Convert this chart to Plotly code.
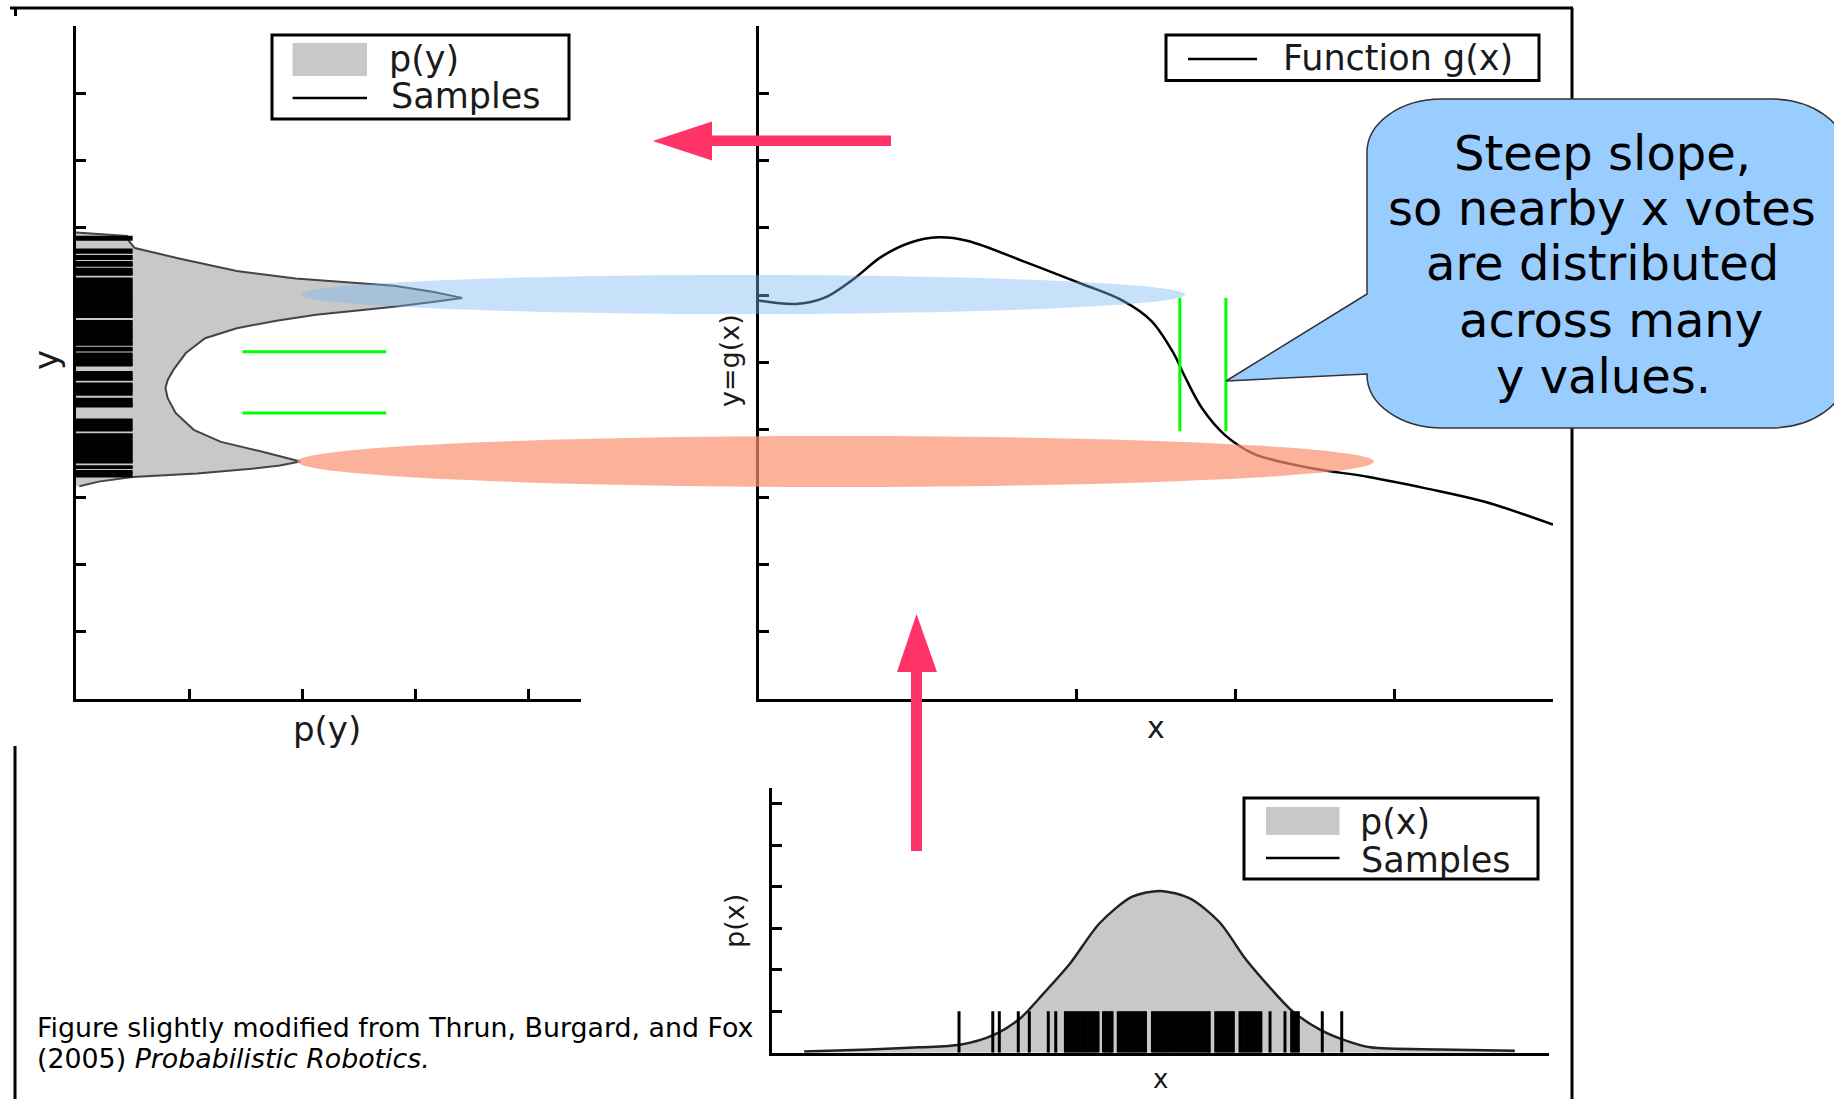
import plotly.graph_objects as go

W, H = 1834, 1099

# ---------------- data ----------------
# Left panel: density p(y), listed along y (top to bottom)
py_y = [6.93, 6.88, 6.80, 6.70, 6.55, 6.36, 6.25, 6.18, 6.14, 6.05, 5.96, 5.90, 5.83, 5.71, 5.62,
        5.51, 5.36, 5.14, 4.89, 4.74, 4.62, 4.47, 4.25, 4.00, 3.82, 3.68, 3.60, 3.53, 3.47, 3.42,
        3.35, 3.30, 3.23, 3.16]
py_density = [0.00, 0.45, 0.47, 0.52, 0.90, 1.42, 1.94, 2.47, 2.81, 3.15, 3.41, 3.15, 2.81, 2.12, 1.77,
              1.42, 1.14, 0.97, 0.86, 0.81, 0.79, 0.81, 0.88, 1.04, 1.28, 1.63, 1.82, 1.98, 1.80, 1.55,
              1.07, 0.50, 0.20, 0.03]

# Left panel: y samples (horizontal strokes)
y_samples = [6.86, 6.83, 6.67, 6.64, 6.575, 6.545, 6.485, 6.455, 6.445,
             6.385, 6.355, 6.325, 6.31,
             6.24, 6.21, 6.18, 6.15, 6.12, 6.09, 6.06, 6.03, 6.00, 5.97, 5.94, 5.91, 5.88, 5.85,
             5.82, 5.79, 5.76, 5.73, 5.70, 5.685,
             5.61, 5.58, 5.55, 5.52, 5.49, 5.46, 5.43, 5.40, 5.37, 5.34, 5.31, 5.28, 5.27,
             5.21, 5.185,
             5.125, 5.095, 5.065, 5.035, 5.005, 4.975, 4.962,
             4.85, 4.82, 4.79, 4.76, 4.75,
             4.68, 4.65, 4.62, 4.59, 4.56, 4.53,
             4.455, 4.425, 4.395, 4.365, 4.352,
             4.145, 4.115, 4.085, 4.055, 4.025, 3.997,
             3.925, 3.895, 3.865, 3.835, 3.805, 3.775, 3.745, 3.715, 3.685, 3.655, 3.625, 3.595,
             3.565, 3.535, 3.52,
             3.45, 3.44,
             3.38, 3.35, 3.315]
y_sample_length = 0.5

# Middle panel: function g(x)
g_x = [0.00, 0.23, 0.41, 0.59, 0.77, 0.95, 1.13, 1.31, 1.67, 2.03, 2.29, 2.47, 2.61, 2.68, 2.79,
       2.94, 3.12, 3.48, 3.84, 4.20, 4.57, 5.00]
g_y = [5.92, 5.87, 5.96, 6.23, 6.57, 6.78, 6.86, 6.81, 6.50, 6.17, 5.92, 5.62, 5.14, 4.80, 4.32,
       3.91, 3.64, 3.43, 3.30, 3.13, 2.93, 2.59]

# Bottom panel: density p(x)
px_x = [0.21, 0.63, 0.95, 1.21, 1.43, 1.60, 1.75, 1.92, 2.11, 2.32, 2.50, 2.69, 2.88, 3.05, 3.21,
        3.35, 3.53, 3.68, 3.85, 4.30, 4.78]
px_density = [0.03, 0.08, 0.13, 0.19, 0.43, 0.83, 1.43, 2.15, 3.12, 3.76, 3.90, 3.72, 3.15, 2.25, 1.55,
              1.00, 0.55, 0.31, 0.13, 0.08, 0.05]

# Bottom panel: x samples (vertical strokes)
x_samples = [1.206, 1.423, 1.465, 1.587, 1.658, 1.780, 1.828,
             1.89, 1.905, 1.92, 1.935, 1.95, 1.965, 1.98, 1.995, 2.01, 2.025, 2.04, 2.055, 2.07,
             2.085, 2.10,
             2.135, 2.15, 2.165, 2.18, 2.19,
             2.23, 2.245, 2.26, 2.275, 2.29, 2.305, 2.32, 2.335, 2.35, 2.365, 2.38, 2.395, 2.405,
             2.45, 2.465, 2.48, 2.495, 2.51, 2.525, 2.54, 2.555, 2.57, 2.585, 2.60, 2.615, 2.63,
             2.645, 2.66, 2.675, 2.69, 2.705, 2.72, 2.735, 2.75, 2.765, 2.78, 2.795, 2.81, 2.815,
             2.857, 2.872, 2.887, 2.902, 2.917, 2.932, 2.947, 2.962, 2.97,
             3.013, 3.028, 3.043, 3.058, 3.073, 3.088, 3.103, 3.118, 3.133, 3.147,
             3.206, 3.302, 3.345, 3.36, 3.375, 3.388, 3.542, 3.667]
x_sample_height = 1.0

# Green marker lines
green_left_y = [5.16, 4.25]
green_left_x = [1.47, 2.74]
green_mid_x = [2.65, 2.94]
green_mid_y = [3.98, 5.96]

# Tick positions (no tick labels shown)
left_xticks = [1, 2, 3, 4]
left_yticks = [1, 2, 3, 4, 5, 6, 7, 8, 9, 10]
mid_xticks = [1, 2, 3, 4, 5]
mid_yticks = [1, 2, 3, 4, 5, 6, 7, 8, 9, 10]
bot_xticks = [5]
bot_yticks = [1, 2, 3, 4, 5, 6]

callout_lines = ["Steep slope,", "so nearby x votes", "are distributed", "across many", "y values."]

# ---------------- helpers ----------------
def fx(p):
    return p / W


def fy(p):
    return 1 - p / H


def pt(x, y):
    return f"{fx(x):.5f},{fy(y):.5f}"


GRAY = "#c8c8c8"
PINK = "#ff3366"
GREEN = "#00ff00"
FONT = "DejaVu Sans"
TXT = "#1a1a1a"

fig = go.Figure()

# Left panel
fig.add_trace(go.Scatter(x=py_density, y=py_y, mode="lines", fill="tozerox", fillcolor=GRAY,
                         line=dict(color="#444444", width=2), xaxis="x", yaxis="y"))
sx, sy = [], []
for v in y_samples:
    sx += [0, y_sample_length, None]
    sy += [v, v, None]
fig.add_trace(go.Scatter(x=sx, y=sy, mode="lines", line=dict(color="black", width=3),
                         xaxis="x", yaxis="y"))
gx1, gy1 = [], []
for v in green_left_y:
    gx1 += [green_left_x[0], green_left_x[1], None]
    gy1 += [v, v, None]
fig.add_trace(go.Scatter(x=gx1, y=gy1, mode="lines", line=dict(color=GREEN, width=3),
                         xaxis="x", yaxis="y"))

# Middle panel
fig.add_trace(go.Scatter(x=g_x, y=g_y, mode="lines", line=dict(color="black", width=2.5, shape="spline"),
                         xaxis="x2", yaxis="y2"))
gx2, gy2 = [], []
for v in green_mid_x:
    gx2 += [v, v, None]
    gy2 += [green_mid_y[0], green_mid_y[1], None]
fig.add_trace(go.Scatter(x=gx2, y=gy2, mode="lines", line=dict(color=GREEN, width=3),
                         xaxis="x2", yaxis="y2"))

# Bottom panel
fig.add_trace(go.Scatter(x=px_x, y=px_density, mode="lines", fill="tozeroy", fillcolor=GRAY,
                         line=dict(color="#222222", width=2.5, shape="spline", smoothing=0.8),
                         xaxis="x3", yaxis="y3"))
bx, by = [], []
for v in x_samples:
    bx += [v, v, None]
    by += [0, x_sample_height, None]
fig.add_trace(go.Scatter(x=bx, y=by, mode="lines", line=dict(color="black", width=3),
                         xaxis="x3", yaxis="y3"))

axis_common = dict(showline=True, linecolor="black", linewidth=3, ticks="inside", ticklen=10,
                   tickwidth=3, tickcolor="black", showticklabels=False, showgrid=False,
                   zeroline=False, fixedrange=True)

fig.update_layout(
    width=W, height=H, autosize=False, showlegend=False,
    margin=dict(l=0, r=0, t=0, b=0, pad=0),
    paper_bgcolor="white", plot_bgcolor="rgba(0,0,0,0)",
    xaxis=dict(domain=[fx(76), fx(581)], range=[0, 4.46], tickvals=left_xticks, anchor="y", **axis_common),
    yaxis=dict(domain=[fy(699), fy(26)], range=[0, 10], tickvals=left_yticks, anchor="x", **axis_common),
    xaxis2=dict(domain=[fx(759), fx(1553)], range=[0, 5], tickvals=mid_xticks, anchor="y2", **axis_common),
    yaxis2=dict(domain=[fy(699), fy(26)], range=[0, 10], tickvals=mid_yticks, anchor="x2", **axis_common),
    xaxis3=dict(domain=[fx(771.5), fx(1549)], range=[0, 5], tickvals=bot_xticks, anchor="y3", **axis_common),
    yaxis3=dict(domain=[fy(1052.7), fy(788)], range=[0, 6.38], tickvals=bot_yticks, anchor="x3", **axis_common),
)

shapes = []


def line_px(x0, y0, x1, y1, color="black", width=3):
    shapes.append(dict(type="line", xref="paper", yref="paper", x0=fx(x0), y0=fy(y0), x1=fx(x1), y1=fy(y1),
                       line=dict(color=color, width=width), layer="above"))


def rect_px(x0, y0, x1, y1, fill, lcolor=None, lwidth=0):
    shapes.append(dict(type="rect", xref="paper", yref="paper", x0=fx(x0), y0=fy(y1), x1=fx(x1), y1=fy(y0),
                       fillcolor=fill, line=dict(color=lcolor or fill, width=lwidth), layer="above"))


# outer frame
line_px(10, 8, 1573, 8)
line_px(1572, 8, 1572, 1099)
line_px(15, 746, 15, 1099)
line_px(15.5, 8, 15.5, 16)

# ellipses
shapes.append(dict(type="circle", xref="paper", yref="paper", x0=fx(301), x1=fx(1185), y0=fy(314), y1=fy(275),
                   fillcolor="rgba(124,183,243,0.42)", line=dict(width=0), layer="above"))
shapes.append(dict(type="circle", xref="paper", yref="paper", x0=fx(297), x1=fx(1374), y0=fy(487), y1=fy(436),
                   fillcolor="rgba(249,144,111,0.70)", line=dict(width=0), layer="above"))

# arrows
arrow_h = (f"M{pt(891, 135.5)} L{pt(712, 135.5)} L{pt(712, 121.6)} L{pt(652.7, 141)} "
           f"L{pt(712, 160.4)} L{pt(712, 146)} L{pt(891, 146)} Z")
arrow_v = (f"M{pt(911, 851)} L{pt(911, 672)} L{pt(897, 672)} L{pt(916.5, 614)} "
           f"L{pt(937, 672)} L{pt(922, 672)} L{pt(922, 851)} Z")
for pth in (arrow_h, arrow_v):
    shapes.append(dict(type="path", xref="paper", yref="paper", path=pth, fillcolor=PINK,
                       line=dict(width=0), layer="above"))

# callout
L, R, T, B, rx, ry, k = 1367, 1846, 99, 428, 75, 53, 0.5523
callout = (f"M{pt(L + rx, T)} L{pt(R - rx, T)} "
           f"C{pt(R - rx + rx * k, T)} {pt(R, T + ry - ry * k)} {pt(R, T + ry)} "
           f"L{pt(R, B - ry)} "
           f"C{pt(R, B - ry + ry * k)} {pt(R - rx + rx * k, B)} {pt(R - rx, B)} "
           f"L{pt(L + rx, B)} "
           f"C{pt(L + rx - rx * k, B)} {pt(L, B - ry + ry * k)} {pt(L, B - ry)} "
           f"L{pt(L, 374)} L{pt(1226, 381)} L{pt(L, 294)} L{pt(L, T + ry)} "
           f"C{pt(L, T + ry - ry * k)} {pt(L + rx - rx * k, T)} {pt(L + rx, T)} Z")
shapes.append(dict(type="path", xref="paper", yref="paper", path=callout, fillcolor="#99ccff",
                   line=dict(color="#333333", width=1.5), layer="above"))

# legend boxes
rect_px(272, 35, 569, 119, "white", "black", 3)
rect_px(292.6, 43, 367, 76, GRAY)
line_px(292.6, 98, 367, 98, width=2.5)

rect_px(1166, 35, 1539, 80.5, "white", "black", 3)
line_px(1188, 59, 1257, 59, width=2.5)

rect_px(1244, 798, 1538, 879, "white", "black", 3)
rect_px(1266, 807, 1339.5, 835, GRAY)
line_px(1266, 858, 1339.5, 858, width=2.5)

fig.update_layout(shapes=shapes)

ann = []


def text_px(x, y, s, size, xanchor="left", angle=0, color=TXT):
    ann.append(dict(xref="paper", yref="paper", x=fx(x), y=fy(y), text=s, showarrow=False,
                    xanchor=xanchor, yanchor="middle", textangle=angle,
                    font=dict(family=FONT, size=size, color=color)))


# legend texts
text_px(387, 59, "p(y)", 35)
text_px(389, 96, "Samples", 35)
text_px(1281, 58, "Function g(x)", 35)
text_px(1358, 822, "p(x)", 35)
text_px(1359, 860, "Samples", 35)

# axis labels
text_px(46, 360, "y", 34, xanchor="center", angle=-90)
text_px(327, 729, "p(y)", 34, xanchor="center")
text_px(730, 361, "y=g(x)", 27, xanchor="center", angle=-90)
text_px(1156, 727, "x", 30, xanchor="center")
text_px(734, 921, "p(x)", 27, xanchor="center", angle=-90)
text_px(1160, 1079, "x", 26, xanchor="center")

# callout text
callout_x = [1602, 1602, 1602, 1611, 1603]
callout_y = [153, 208, 263, 320, 376]
for s, cx, cy in zip(callout_lines, callout_x, callout_y):
    text_px(cx, cy, s, 48, xanchor="center", color="black")

# footnote
text_px(35, 1027, "Figure slightly modified from Thrun, Burgard, and Fox", 26.8, color="black")
text_px(35, 1058, "(2005) <i>Probabilistic Robotics.</i>", 26.8, color="black")

fig.update_layout(annotations=ann)

fig.write_html("out.html", config={"displayModeBar": False},
               post_script="document.body.style.margin='0';document.body.style.overflow='hidden';")
